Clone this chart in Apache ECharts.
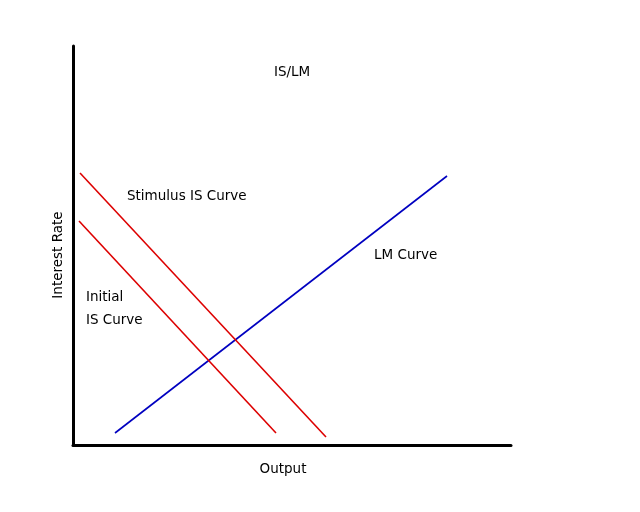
<!DOCTYPE html>
<html>
<head>
<meta charset="utf-8">
<script src="https://cdn.jsdelivr.net/npm/echarts@6/dist/echarts.min.js"></script>
<style>
html,body{margin:0;padding:0;background:#fff;}
#chart{width:640px;height:512px;}
</style>
</head>
<body>
<div id="chart"></div>
<script>
// endpoints (output, interest rate)
let lmCurve = [[42, 12], [374, 269]];
let initialIS = [[6, 224], [203, 12]];
let stimulusIS = [[7, 272], [253, 8]];

let chart = echarts.init(document.getElementById('chart'));

let font = 'DejaVu Sans';

let option = {
    animation: false,
    title: {
        text: 'IS/LM',
        left: 269,
        top: 60,
        textStyle: {fontFamily: font, fontSize: 13.5, fontWeight: 'normal', color: '#000'}
    },
    grid: {left: 73, top: 46, width: 438, height: 399},
    xAxis: {
        type: 'value',
        min: 0,
        max: 438,
        name: 'Output',
        nameLocation: 'middle',
        nameGap: 17,
        nameTextStyle: {fontFamily: font, fontSize: 13.5, color: '#000', padding: [0, 18, 0, 0]},
        axisLine: {lineStyle: {color: '#000', width: 3}},
        axisTick: {show: false},
        axisLabel: {show: false},
        splitLine: {show: false}
    },
    yAxis: {
        type: 'value',
        min: 0,
        max: 399,
        axisLine: {show: true, lineStyle: {color: '#000', width: 3}},
        axisTick: {show: false},
        axisLabel: {show: false},
        splitLine: {show: false}
    },
    series: [
        {
            name: 'LM Curve',
            type: 'line',
            data: lmCurve,
            symbol: 'none',
            color: '#0000c0',
            lineStyle: {width: 1.6}
        },
        {
            name: 'Initial IS Curve',
            type: 'line',
            data: initialIS,
            symbol: 'none',
            color: '#dd0000',
            lineStyle: {width: 1.6}
        },
        {
            name: 'Stimulus IS Curve',
            type: 'line',
            data: stimulusIS,
            symbol: 'none',
            color: '#dd0000',
            lineStyle: {width: 1.6}
        }
    ],
    graphic: [
        {type: 'text', x: 58, y: 255, rotation: Math.PI / 2,
            style: {text: 'Interest Rate', font: '13.5px ' + font, fill: '#000', align: 'center', verticalAlign: 'middle'}},
        {type: 'text', left: 127, top: 189, style: {text: 'Stimulus IS Curve', font: '13.5px ' + font, fill: '#000'}},
        {type: 'text', left: 374, top: 248, style: {text: 'LM Curve', font: '13.5px ' + font, fill: '#000'}},
        {type: 'text', left: 86, top: 290, style: {text: 'Initial', font: '13.5px ' + font, fill: '#000'}},
        {type: 'text', left: 86, top: 313, style: {text: 'IS Curve', font: '13.5px ' + font, fill: '#000'}}
    ]
};
chart.setOption(option);
window.addEventListener('resize', function () {chart.resize();});
</script>
</body>
</html>
